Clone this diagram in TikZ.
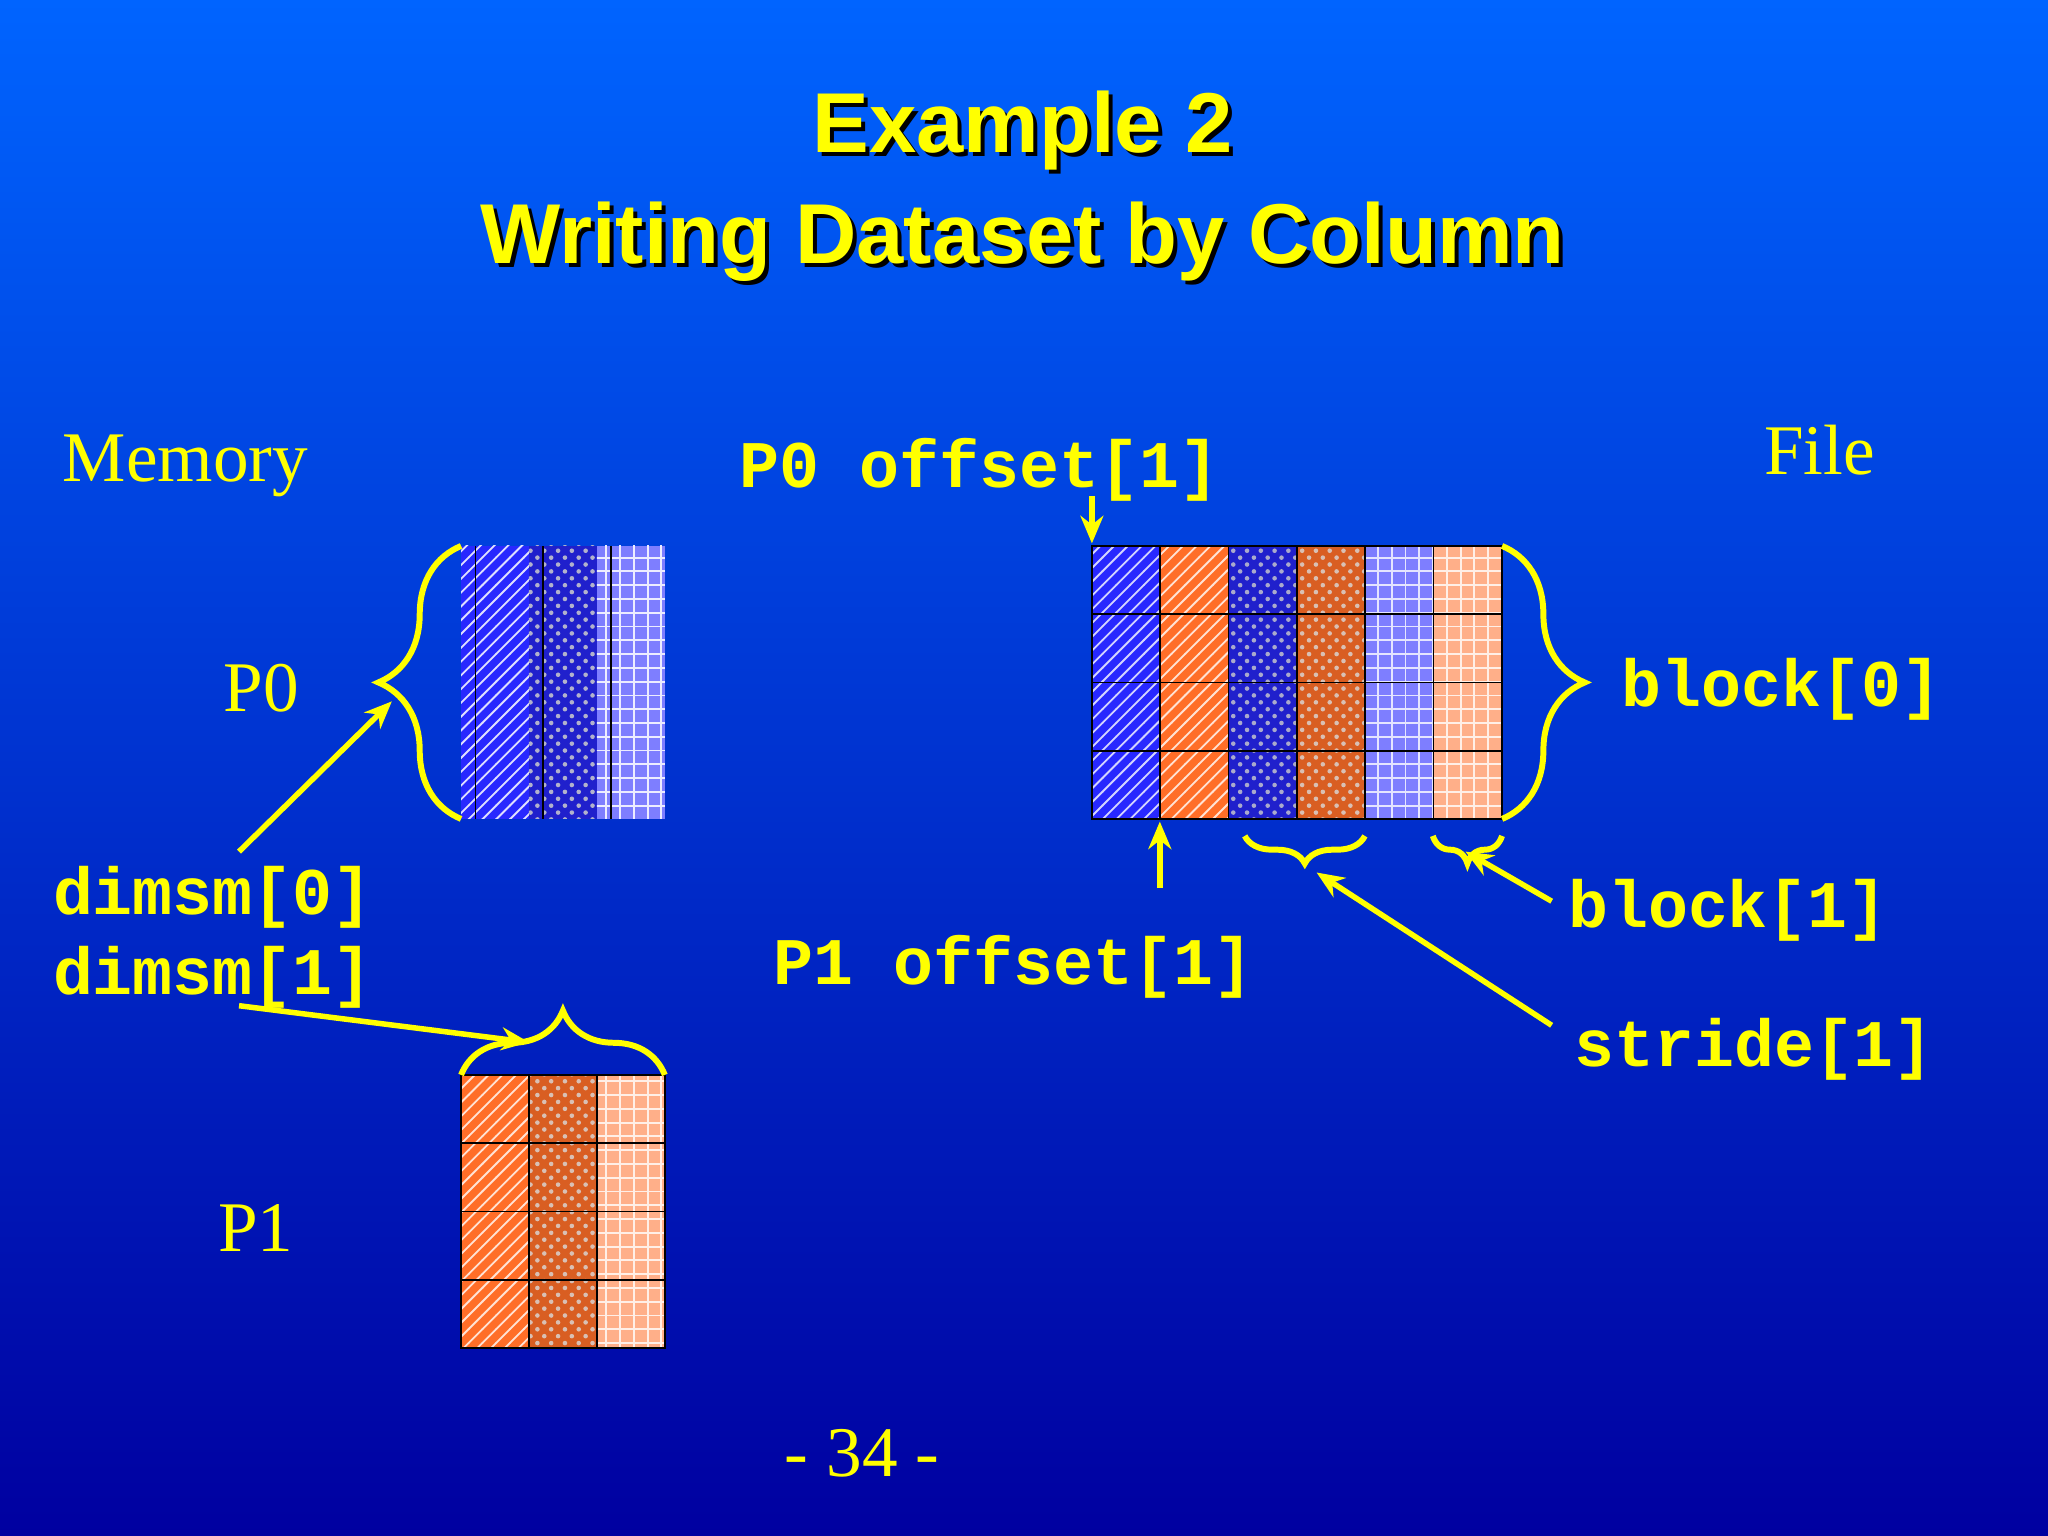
\documentclass[tikz,border=0pt]{standalone}
\usepackage{fontspec}
\setmainfont{Liberation Serif}
\newfontfamily\titlefont{Liberation Sans}
\newfontfamily\monof{Liberation Mono}
\usetikzlibrary{patterns,decorations.pathreplacing,arrows.meta}
\definecolor{ylw}{RGB}{255,255,0}
\definecolor{bluA}{RGB}{40,40,255}
\definecolor{orA}{RGB}{255,110,40}
\tikzset{
 lbl/.style={text=ylw,font=\fontsize{15.5}{18}\selectfont},
 mono/.style={text=ylw,font=\monof\bfseries\fontsize{14.5}{17}\selectfont},
 ttl/.style={text=ylw,font=\titlefont\bfseries\fontsize{18.5}{22}\selectfont},
 shd/.style={text=black,font=\titlefont\bfseries\fontsize{18.5}{22}\selectfont},
 arr/.style={draw=ylw,line width=1.2pt,-{Stealth[length=6pt,width=5pt]}},
 brc/.style={draw=ylw,line width=1.3pt,decorate,decoration={brace,amplitude=#1}},
}
\newcommand{\cellcol}[5]{% x y w h pattern color
 \fill[#5] (#1,#2) rectangle ++(#3,#4);
}
\begin{document}
\begin{tikzpicture}[x=0.01cm,y=-0.01cm]
\shade[top color={rgb,255:red,0;green,100;blue,255},bottom color={rgb,255:red,0;green,0;blue,160}] (0,0) rectangle (1568,1176);
\useasboundingbox (0,0) rectangle (1568,1176);
% title
\node[shd] at (786,103) {Example 2};
\node[ttl] (t1) at (783,100) {Example 2};
\node[shd] at (786,188) {Writing Dataset by Column};
\node[ttl] (t2) at (783,185) {Writing Dataset by Column};
% column drawing macro via foreach
% Memory P0
\foreach \i/\c/\p in {0/bluA/north east lines,1/bluA!80!black/crosshatch dots,2/bluA!60!white/grid}{
 \fill[\c] (353+52*\i,418) rectangle ++(52,209);
 \fill[pattern=\p,pattern color=white!85!\c] (353+52*\i,418) rectangle ++(52,209);
}
\draw[black] (353,418) grid[xstep=52,ystep=52.25] (509,627);
\foreach \i/\c/\p in {0/orA/north east lines,1/orA!85!black/crosshatch dots,2/orA!55!white/grid}{
 \fill[\c] (353+52*\i,823) rectangle ++(52,209);
 \fill[pattern=\p,pattern color=white!80!\c] (353+52*\i,823) rectangle ++(52,209);
}
\foreach \k in {0,1,2,3}{\draw[black] (353,823+52.25*\k) rectangle (509,875.25+52.25*\k);}
\foreach \k in {0,1,2}{\draw[black] (353+52*\k,823) rectangle (405+52*\k,1032);}
% File
\foreach \i/\c/\p in {0/bluA/north east lines,1/orA/north east lines,2/bluA!80!black/crosshatch dots,3/orA!85!black/crosshatch dots,4/bluA!60!white/grid,5/orA!55!white/grid}{
 \fill[\c] (836+52.3*\i,418) rectangle ++(52.3,209);
 \fill[pattern=\p,pattern color=white!80!\c] (836+52.3*\i,418) rectangle ++(52.3,209);
}
\foreach \k in {0,1,2,3}{\draw[black] (836,418+52.25*\k) rectangle (1150,470.25+52.25*\k);}
\foreach \k in {0,...,5}{\draw[black] (836+52.3*\k,418) rectangle (888.3+52.3*\k,627);}
% nodes
\coordinate (m0bl) at (353,627); \coordinate (m0tl) at (353,418);
\coordinate (m1l) at (353,823); \coordinate (m1r) at (509,823);
\coordinate (ftr) at (1150,418); \coordinate (fbr) at (1150,627);
\coordinate (s1) at (1045,640); \coordinate (s0) at (953,640);
\coordinate (b1) at (1150,640); \coordinate (b0) at (1097,640);
\draw[brc=18pt] (m0bl) -- (m0tl);
\draw[brc=14pt] (m1l) -- (m1r);
\draw[brc=18pt] (ftr) -- (fbr);
\draw[brc=6pt] (s1) -- (s0);
\draw[brc=6pt] (b1) -- (b0);
% labels
\node[lbl] (mem) at (142,357) {Memory};
\node[lbl] (file) at (1393,345) {File};
\node[lbl] (p0) at (200,527) {P0};
\node[lbl] (p1) at (196,940) {P1};
\node[lbl] (pg) at (660,1113) {- 34 -};
\node[mono] (p0o) at (750,360) {P0 offset[1]};
\node[mono] (p1o) at (776,740) {P1 offset[1]};
\node[mono] (bk0) at (1364,528) {block[0]};
\node[mono] (bk1) at (1323,697) {block[1]};
\node[mono] (st1) at (1343,803) {stride[1]};
\node[mono] (d0) at (163,687) {dimsm[0]};
\node[mono] (d1) at (163,748) {dimsm[1]};
% arrows
\coordinate (a1s) at (183,652); \coordinate (a1e) at (300,537);
\coordinate (a2s) at (183,770); \coordinate (a2e) at (405,798);
\coordinate (a3s) at (836,380); \coordinate (a3e) at (836,416);
\coordinate (a4s) at (888,680); \coordinate (a4e) at (888,629);
\coordinate (a5s) at (1188,785); \coordinate (a5e) at (1008,668);
\coordinate (a6s) at (1188,690); \coordinate (a6e) at (1122,652);
\draw[arr] (a1s) -- (a1e);
\draw[arr] (a2s) -- (a2e);
\draw[arr] (a3s) -- (a3e);
\draw[arr] (a4s) -- (a4e);
\draw[arr] (a5s) -- (a5e);
\draw[arr] (a6s) -- (a6e);
\end{tikzpicture}
\end{document}
